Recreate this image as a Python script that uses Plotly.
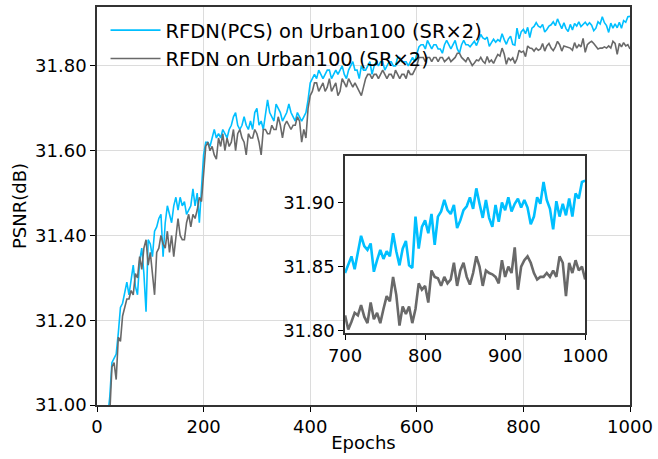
import plotly.graph_objects as go

# Validation PSNR recorded every 4 epochs, from epoch 20 to epoch 1000
epochs = list(range(20, 1001, 4))

# RFDN trained with PCS, evaluated on Urban100 (x2)
psnr_pcs = [
    # epochs 20-196
    30.97, 31.02, 31.10, 31.11, 31.12, 31.17, 31.23, 31.24, 31.27, 31.29,
    31.26, 31.30, 31.33, 31.28, 31.26, 31.34, 31.37, 31.31, 31.22, 31.39,
    31.38, 31.35, 31.41, 31.42, 31.44, 31.45, 31.35, 31.43, 31.47, 31.45,
    31.43, 31.47, 31.49, 31.46, 31.49, 31.47, 31.48, 31.45, 31.46, 31.47,
    31.51, 31.47, 31.50, 31.43, 31.51,
    # epochs 200-396
    31.59, 31.62, 31.62, 31.61, 31.63, 31.65, 31.63, 31.64, 31.63, 31.65,
    31.64, 31.63, 31.65, 31.66, 31.68, 31.69, 31.66, 31.65, 31.66, 31.68,
    31.66, 31.65, 31.67, 31.65, 31.69, 31.70, 31.66, 31.67, 31.65, 31.68,
    31.72, 31.69, 31.68, 31.67, 31.71, 31.70, 31.69, 31.67, 31.68, 31.69,
    31.71, 31.69, 31.68, 31.67, 31.69, 31.68, 31.67, 31.68, 31.69, 31.72,
    # epochs 400-696
    31.76, 31.77, 31.78, 31.77, 31.79, 31.78, 31.77, 31.78, 31.79, 31.79,
    31.77, 31.78, 31.79, 31.78, 31.79, 31.80, 31.78, 31.77, 31.79, 31.80,
    31.81, 31.79, 31.79, 31.77, 31.80, 31.79, 31.79, 31.80, 31.81, 31.78,
    31.80, 31.81, 31.80, 31.81, 31.81, 31.79, 31.80, 31.81, 31.81, 31.80,
    31.80, 31.82, 31.82, 31.81, 31.81, 31.81, 31.80, 31.81, 31.82, 31.81,
    31.83, 31.845, 31.85, 31.85, 31.84, 31.86, 31.85, 31.84, 31.85, 31.85,
    31.84, 31.84, 31.83, 31.85, 31.86, 31.85, 31.84, 31.85, 31.86, 31.84,
    31.83, 31.85, 31.86, 31.85, 31.85,
    # epochs 700-1000
    31.845, 31.852, 31.858, 31.848, 31.862, 31.874, 31.866, 31.863, 31.868, 31.846,
    31.855, 31.863, 31.856, 31.862, 31.858, 31.876, 31.862, 31.851, 31.864, 31.870,
    31.851, 31.849, 31.889, 31.864, 31.881, 31.886, 31.876, 31.891, 31.867, 31.889,
    31.893, 31.902, 31.894, 31.891, 31.898, 31.880, 31.886, 31.894, 31.897, 31.904,
    31.895, 31.911, 31.899, 31.888, 31.902, 31.888, 31.881, 31.898, 31.885, 31.900,
    31.894, 31.904, 31.893, 31.899, 31.903, 31.896, 31.902, 31.896, 31.883, 31.889,
    31.904, 31.899, 31.916, 31.902, 31.895, 31.879, 31.901, 31.889, 31.899, 31.890,
    31.903, 31.889, 31.907, 31.903, 31.916, 31.917,
]

# Baseline RFDN, evaluated on Urban100 (x2)
psnr_base = [
    # epochs 20-196
    30.95, 30.98, 31.09, 31.10, 31.06, 31.16, 31.15, 31.21, 31.23, 31.25,
    31.25, 31.27, 31.26, 31.31, 31.30, 31.35, 31.32, 31.37, 31.39, 31.33,
    31.36, 31.31, 31.26, 31.36, 31.37, 31.40, 31.38, 31.37, 31.41, 31.36,
    31.40, 31.35, 31.39, 31.44, 31.40, 31.39, 31.39, 31.43, 31.45, 31.42,
    31.45, 31.44, 31.46, 31.49, 31.48,
    # epochs 200-396
    31.55, 31.61, 31.62, 31.60, 31.61, 31.59, 31.58, 31.63, 31.61, 31.64,
    31.60, 31.63, 31.61, 31.62, 31.65, 31.60, 31.64, 31.65, 31.63, 31.62,
    31.59, 31.64, 31.63, 31.63, 31.65, 31.64, 31.62, 31.59, 31.65, 31.65,
    31.64, 31.64, 31.66, 31.65, 31.65, 31.68, 31.66, 31.63, 31.66, 31.67,
    31.66, 31.65, 31.66, 31.66, 31.68, 31.67, 31.62, 31.65, 31.63, 31.70,
    # epochs 400-696
    31.73, 31.74, 31.76, 31.76, 31.74, 31.75, 31.76, 31.74, 31.75, 31.77,
    31.74, 31.75, 31.76, 31.73, 31.74, 31.77, 31.76, 31.75, 31.77, 31.76,
    31.75, 31.76, 31.75, 31.74, 31.73, 31.75, 31.77, 31.78, 31.78, 31.77,
    31.78, 31.78, 31.77, 31.78, 31.79, 31.78, 31.77, 31.78, 31.78, 31.77,
    31.79, 31.78, 31.77, 31.78, 31.78, 31.77, 31.79, 31.78, 31.78, 31.79,
    31.80, 31.82, 31.82, 31.82, 31.81, 31.82, 31.82, 31.81, 31.82, 31.82,
    31.81, 31.82, 31.82, 31.81, 31.815, 31.82, 31.81, 31.815, 31.82, 31.83,
    31.83, 31.82, 31.815, 31.81, 31.82,
    # epochs 700-1000
    31.812, 31.801, 31.807, 31.814, 31.812, 31.820, 31.811, 31.806, 31.822, 31.809,
    31.814, 31.806, 31.817, 31.827, 31.823, 31.842, 31.828, 31.804, 31.819, 31.813,
    31.819, 31.806, 31.817, 31.837, 31.832, 31.835, 31.822, 31.847, 31.842, 31.841,
    31.835, 31.842, 31.837, 31.840, 31.853, 31.835, 31.847, 31.853, 31.842, 31.836,
    31.845, 31.858, 31.850, 31.835, 31.847, 31.845, 31.844, 31.842, 31.837, 31.855,
    31.842, 31.850, 31.845, 31.865, 31.832, 31.850, 31.855, 31.858, 31.853, 31.845,
    31.840, 31.842, 31.842, 31.845, 31.842, 31.847, 31.842, 31.858, 31.853, 31.827,
    31.853, 31.845, 31.855, 31.847, 31.850, 31.840,
]

names = ["RFDN(PCS) on Urban100 (SR×2)", "RFDN on Urban100 (SR×2)"]
colors = ["#00BFFF", "#696969"]

ZOOM_START = 700
zoom_idx = [i for i, e in enumerate(epochs) if e >= ZOOM_START]
zoom_epochs = [epochs[i] for i in zoom_idx]

FONT = "DejaVu Sans"
FRAME = "#333333"
GRID = "#dcdcdc"

fig = go.Figure()

# full training curves
for name, ys, col in zip(names, [psnr_pcs, psnr_base], colors):
    fig.add_trace(go.Scatter(
        x=epochs, y=ys, mode="lines", name=name,
        line=dict(color=col, width=1.6),
        xaxis="x", yaxis="y",
    ))

# zoomed view of the last 300 epochs
for ys, col in zip([psnr_pcs, psnr_base], colors):
    fig.add_trace(go.Scatter(
        x=zoom_epochs, y=[ys[i] for i in zoom_idx], mode="lines",
        line=dict(color=col, width=2.6), showlegend=False,
        xaxis="x2", yaxis="y2",
    ))

axis_common = dict(
    showline=True, linecolor=FRAME, linewidth=1.5, mirror=True,
    ticks="outside", ticklen=5, tickwidth=1.2, tickcolor="#000000",
    zeroline=False, tickfont=dict(family=FONT, size=18, color="#000000"),
)

fig.update_layout(
    width=658, height=459,
    margin=dict(l=97, r=26, t=5, b=54),
    paper_bgcolor="white", plot_bgcolor="white",
    font=dict(family=FONT, size=18, color="#000000"),
    xaxis=dict(
        domain=[0, 1], range=[0, 1000], tick0=0, dtick=200,
        showgrid=True, gridcolor=GRID, gridwidth=1,
        title=dict(text="Epochs", font=dict(family=FONT, size=18), standoff=0),
        **axis_common,
    ),
    yaxis=dict(
        domain=[0, 1], range=[31.0, 31.939], tick0=31.0, dtick=0.2,
        tickformat=".2f",
        showgrid=True, gridcolor=GRID, gridwidth=1,
        title=dict(text="PSNR(dB)", font=dict(family=FONT, size=18), standoff=4),
        **axis_common,
    ),
    xaxis2=dict(
        domain=[0.4654, 0.9159], anchor="y2", range=[700, 1000],
        tick0=700, dtick=100, showgrid=False,
        **axis_common,
    ),
    yaxis2=dict(
        domain=[0.18, 0.625], anchor="x2", range=[31.798, 31.936],
        tick0=31.80, dtick=0.05, tickformat=".2f", showgrid=False,
        **axis_common,
    ),
    legend=dict(
        x=0.016, y=0.99, xanchor="left", yanchor="top",
        bgcolor="rgba(255,255,255,0)", borderwidth=0,
        font=dict(family=FONT, size=19.5, color="#000000"),
        itemwidth=50, tracegroupgap=0,
    ),
)

fig.write_html("out.html")
